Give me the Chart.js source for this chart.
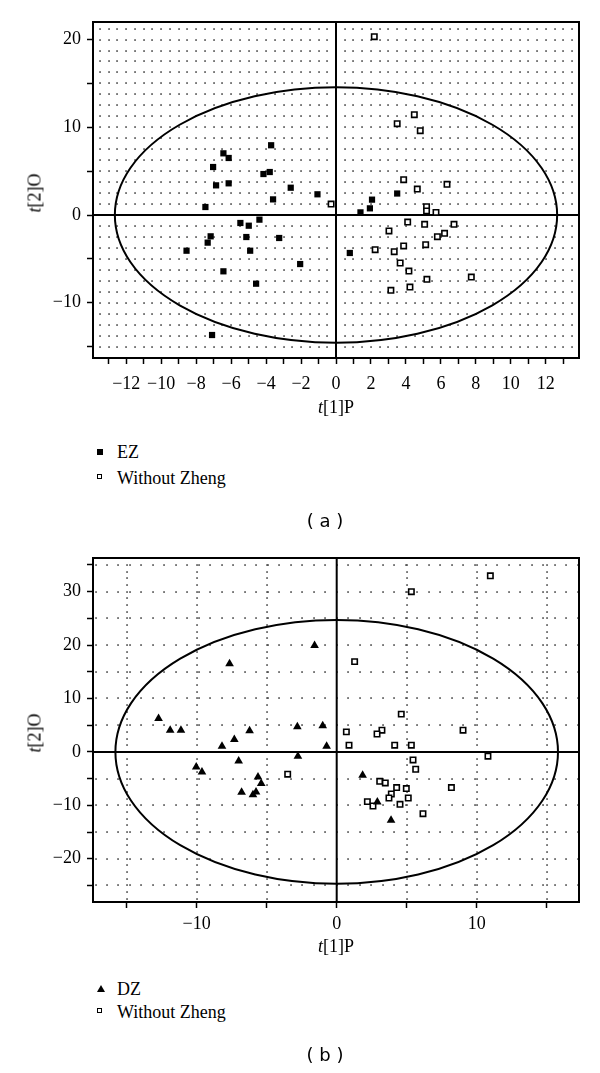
<!DOCTYPE html>
<html>
<head>
<meta charset="utf-8">
<script src="https://cdn.jsdelivr.net/npm/chart.js@4"></script>
<style>
  body { margin: 0; background: #fff; }
  #page { position: relative; width: 600px; height: 1073px; overflow: hidden; background: #fff; }
  canvas { position: absolute; left: 0; }
  .txt { position: absolute; font-family: "Liberation Serif", serif; font-size: 18px; color: #000; white-space: nowrap; }
  .ctr { transform: translate(-50%, -50%); }
  .rot { transform: translate(-50%, -50%) rotate(-90deg); }
  .cap { position: absolute; font-family: "DejaVu Sans", sans-serif; font-size: 18px; transform: translate(-50%, -50%); }
  .leg { position: absolute; font-family: "Liberation Serif", serif; font-size: 18px; line-height: 18px; }
  .mk { position: absolute; }
  .sq-fill { width: 6px; height: 6px; background: #000; }
  .sq-open { width: 3px; height: 3px; border: 1.5px solid #000; }
  .tri { width: 0; height: 0; border-left: 4px solid transparent; border-right: 4px solid transparent; border-bottom: 7px solid #000; }
</style>
</head>
<body>
<div id="page">
  <canvas id="chartA" width="600" height="400" style="top:0"></canvas>
  <canvas id="chartB" width="600" height="400" style="top:540px"></canvas>

  <div class="txt ctr" style="left:336px; top:407px"><i>t</i>[1]P</div>
  <div class="txt rot" style="left:35px; top:193px"><i>t</i>[2]O</div>
  <div class="mk sq-fill" style="left:97px; top:449px"></div>
  <div class="leg" style="left:117px; top:443px">EZ</div>
  <div class="mk sq-open" style="left:97px; top:474px"></div>
  <div class="leg" style="left:117px; top:469px">Without Zheng</div>
  <div class="cap" style="left:325px; top:520px">( a )</div>

  <div class="txt ctr" style="left:336px; top:946px"><i>t</i>[1]P</div>
  <div class="txt rot" style="left:35px; top:733px"><i>t</i>[2]O</div>
  <div class="mk tri" style="left:97px; top:985px"></div>
  <div class="leg" style="left:117px; top:980px">DZ</div>
  <div class="mk sq-open" style="left:97px; top:1008px"></div>
  <div class="leg" style="left:117px; top:1003px">Without Zheng</div>
  <div class="cap" style="left:325px; top:1054px">( b )</div>
</div>
<script>
// chart (a): EZ vs Without Zheng
const ezX = [-3.71, -6.44, -6.14, -7.03, -4.15, -3.79, -6.86, -6.14, -2.59, -1.06, -3.6, -7.47, -5.47, -4.99, -4.38,
             -7.17, -7.34, -5.13, -3.25, -8.55, -4.91, -2.05, -6.44, -4.57, -7.09, 3.5, 2.06, 1.94, 1.4, 0.79];
const ezY = [7.95, 7.03, 6.5, 5.47, 4.67, 4.9, 3.38, 3.61, 3.11, 2.36, 1.78, 0.91, -0.91, -1.22, -0.53,
             -2.43, -3.15, -2.51, -2.62, -4.07, -4.07, -5.59, -6.42, -7.83, -13.68, 2.45, 1.75, 0.76, 0.3, -4.33];
const wzAX = [2.19, 4.48, 3.5, 4.82, 3.87, 4.65, 6.35, -0.28, 5.18, 5.18, 5.72, 4.1, 5.07, 6.75, 3.03,
              6.21, 5.8, 2.24, 3.33, 3.87, 5.13, 3.67, 4.17, 5.2, 7.74, 4.23, 3.14];
const wzAY = [20.33, 11.44, 10.41, 9.61, 4.03, 2.96, 3.5, 1.25, 0.95, 0.46, 0.3, -0.8, -1.06, -1.06, -1.82,
              -2.09, -2.47, -3.95, -4.18, -3.53, -3.38, -5.47, -6.39, -7.33, -7.07, -8.21, -8.59];
const aXLabels = [-12, -10, -8, -6, -4, -2, 0, 2, 4, 6, 8, 10, 12];
const aYLabels = [-10, 0, 10, 20];
const ellipseA = [12.65, 14.55];

// chart (b): DZ vs Without Zheng
const dzX = [-1.58, -7.65, -12.72, -11.89, -11.12, -6.22, -2.81, -1.0, -8.19, -7.31, -0.72, -2.77, -7.0, -10.03,
             -9.62, -5.62, -5.39, -6.79, -5.76, -5.98, 1.85, 2.9, 3.88];
const dzY = [19.9, 16.5, 6.27, 4.07, 4.07, 3.94, 4.69, 4.88, 1.07, 2.33, 1.07, -0.81, -1.69, -2.81,
             -3.75, -4.69, -5.93, -7.56, -7.5, -8.0, -4.37, -9.38, -12.81];
const wzBX = [10.97, 5.33, 1.28, 4.61, 0.69, 3.23, 2.88, 9.02, 0.88, 4.14, 5.33, 10.8, 5.45, 5.64, 3.07,
              3.47, 4.28, 4.97, 8.19, 3.9, 3.73, 5.11, 2.19, 2.59, 4.52, 6.16, -3.5];
const wzBY = [32.96, 30.0, 16.9, 7.07, 3.75, 4.07, 3.35, 4.07, 1.26, 1.26, 1.26, -0.81, -1.5, -3.25, -5.5,
              -5.81, -6.68, -6.87, -6.68, -7.88, -8.63, -8.63, -9.31, -10.13, -9.81, -11.56, -4.18];
const bXLabels = [-10, 0, 10];
const bYLabels = [-20, -10, 0, 10, 20, 30];
const ellipseB = [15.8, 24.7];

const pts = (xs, ys) => xs.map((x, i) => ({ x, y: ys[i] }));
const fmt = v => (v < 0 ? '\u2212' + Math.abs(v) : String(v));

// dotted grid, zero lines, ellipse and frame
const decor = {
  id: 'decor',
  beforeDatasetsDraw(chart, args, o) {
    const { ctx, chartArea: ca, scales: { x, y } } = chart;
    ctx.save();
    ctx.beginPath();
    ctx.rect(ca.left, ca.top, ca.width, ca.height);
    ctx.clip();
    ctx.fillStyle = '#444';
    const dots = (rowStep, dotStep) => {
      for (let yv = Math.ceil(y.min / rowStep) * rowStep; yv <= y.max; yv += rowStep) {
        if (Math.abs(yv) < 1e-6) continue;
        const py = Math.round(y.getPixelForValue(yv));
        for (let xv = Math.ceil(x.min / dotStep) * dotStep; xv <= x.max; xv += dotStep) {
          ctx.fillRect(Math.round(x.getPixelForValue(xv)) - 0.75, py - 0.75, 1.6, 1.6);
        }
      }
    };
    const colDots = (colStep, dotStep) => {
      for (let xv = Math.ceil(x.min / colStep) * colStep; xv <= x.max; xv += colStep) {
        if (Math.abs(xv) < 1e-6) continue;
        const px = Math.round(x.getPixelForValue(xv));
        for (let yv = Math.ceil(y.min / dotStep) * dotStep; yv <= y.max; yv += dotStep) {
          ctx.fillRect(px - 0.75, Math.round(y.getPixelForValue(yv)) - 0.75, 1.6, 1.6);
        }
      }
    };
    if (o.rows) dots(o.rows[0], o.rows[1]);
    if (o.cols) colDots(o.cols[0], o.cols[1]);

    ctx.strokeStyle = '#000';
    ctx.lineWidth = 2;
    const x0 = x.getPixelForValue(0), y0 = y.getPixelForValue(0);
    ctx.beginPath();
    ctx.moveTo(x0, ca.top); ctx.lineTo(x0, ca.bottom);
    ctx.moveTo(ca.left, y0); ctx.lineTo(ca.right, y0);
    ctx.stroke();

    ctx.beginPath();
    ctx.ellipse(x0, y0, x.getPixelForValue(o.ellipse[0]) - x0, y0 - y.getPixelForValue(o.ellipse[1]), 0, 0, Math.PI * 2);
    ctx.stroke();
    ctx.restore();

    ctx.save();
    ctx.strokeStyle = '#000';
    ctx.lineWidth = 2;
    ctx.strokeRect(ca.left, ca.top, ca.width, ca.height);
    ctx.restore();
  }
};

function axis(min, max, step, labels, extra) {
  return Object.assign({
    type: 'linear', min, max,
    border: { display: false },
    grid: { drawOnChartArea: false, drawTicks: true, tickLength: 6, tickColor: '#000', tickWidth: 1.5 },
    ticks: {
      stepSize: step, includeBounds: false, autoSkip: false, maxRotation: 0, color: '#000',
      font: { family: 'Liberation Serif', size: 18 },
      callback: v => (labels.includes(v) ? fmt(v) : '')
    }
  }, extra);
}

function makeChart(id, sets, sc, pad, decorOpts) {
  return new Chart(document.getElementById(id), {
    type: 'scatter',
    data: { datasets: sets },
    options: {
      responsive: false, animation: false, events: [],
      layout: { padding: pad },
      plugins: { legend: { display: false }, tooltip: { enabled: false }, decor: decorOpts },
      scales: sc
    },
    plugins: [decor]
  });
}

const filledSq = { pointStyle: 'rect', pointRadius: 4.4, backgroundColor: '#000', borderColor: '#000', borderWidth: 0 };
const openSq = { pointStyle: 'rect', pointRadius: 3.8, backgroundColor: '#fff', borderColor: '#000', borderWidth: 1.6 };
const tri = { pointStyle: 'triangle', pointRadius: 5, backgroundColor: '#000', borderColor: '#000', borderWidth: 0 };

const scA = {
  x: axis(-13.9, 13.9, 1, aXLabels, { afterFit: s => { s.height = 42; } }),
  y: axis(-16.3, 22.0, 5, aYLabels, { afterFit: s => { s.width = 93; } })
};
scA.x.ticks.padding = 9;
scA.y.ticks.padding = 6;
makeChart('chartA', [
  Object.assign({ label: 'EZ', data: pts(ezX, ezY) }, filledSq),
  Object.assign({ label: 'Without Zheng', data: pts(wzAX, wzAY) }, openSq)
], scA, { top: 22, right: 21, left: 0, bottom: 0 },
{ rows: [1.25, 0.5], ellipse: ellipseA });

const scB = {
  x: axis(-17.4, 17.3, 5, bXLabels, { afterFit: s => { s.height = 38; } }),
  y: axis(-28.1, 36.3, 5, bYLabels, { afterFit: s => { s.width = 93; } })
};
scB.x.ticks.padding = 5;
scB.y.ticks.padding = 6;
makeChart('chartB', [
  Object.assign({ label: 'DZ', data: pts(dzX, dzY) }, tri),
  Object.assign({ label: 'Without Zheng', data: pts(wzBX, wzBY) }, openSq)
], scB, { top: 18, right: 21, left: 0, bottom: 0 },
{ rows: [5, 0.82], cols: [5, 1.25], ellipse: ellipseB });
</script>
</body>
</html>
